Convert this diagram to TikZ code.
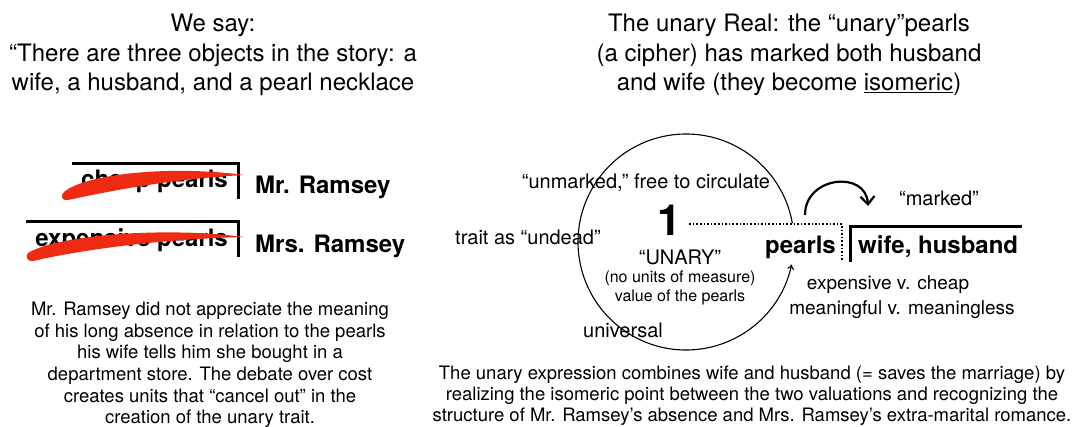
\documentclass[tikz,border=0pt]{standalone}
\usepackage{fontspec}
\setmainfont{TeX Gyre Heros}
\usepackage{xcolor}
\usepackage{tikz}
\usetikzlibrary{arrows.meta,calc}

\definecolor{brushred}{RGB}{238,42,18}

\begin{document}
\begin{tikzpicture}[x=1pt,y=-1pt]
        % Define the styles for the texts, brackets and strokes
        \tikzstyle{heading}=[align=center, inner sep=0pt, font=\fontsize{24}{29.5}\selectfont];
        \tikzstyle{remark}=[align=center, inner sep=0pt, font=\fontsize{18.5}{21.6}\selectfont];
        \tikzstyle{note}=[inner sep=0pt, font=\fontsize{20}{24}\selectfont];
        \tikzstyle{small}=[inner sep=0pt, font=\fontsize{16}{19.5}\selectfont];
        \tikzstyle{term}=[inner sep=0pt, font=\fontsize{24}{28}\selectfont\bfseries];
        \tikzstyle{bracket}=[line width=3pt];
        \tikzstyle{brush}=[fill=brushred];

        % Fix the size of the picture
        \useasboundingbox (0,0) rectangle (1076,426);

        % Headings of the two halves
        \node[heading] (saytitle) at (213,55) {We say:\\ ``There are three objects in the story: a\\ wife, a husband, and a pearl necklace};
        \node[heading] (realtitle) at (789,55) {The unary Real: the ``unary''pearls\\ (a cipher) has marked both husband\\ and wife (they become \underline{isomeric})};

        % Left side: the two crossed-out valuations
        \node[term, anchor=base east] (cheap) at (228,187) {cheap pearls};
        \node[term, anchor=base west] (mr) at (255,193) {Mr. Ramsey};
        \node[term, anchor=base east] (expensive) at (228,246) {expensive pearls};
        \node[term, anchor=base west] (mrs) at (255,252) {Mrs. Ramsey};

        % Brackets over the valuations
        \draw[bracket] (72,163) -- (238,163) -- (238,199);
        \draw[bracket] (26,221) -- (238,221) -- (238,257);

        % Red strokes crossing them out
        \fill[brush] (64,192) .. controls (85,174) and (170,165) .. (244,175)
                     .. controls (170,179) and (110,191) .. (68,200)
                     .. controls (62,201) and (60,196) .. (64,192) -- cycle;
        \fill[brush] (28,253) .. controls (55,236) and (160,226) .. (244,237)
                     .. controls (160,239) and (80,250) .. (33,261)
                     .. controls (27,262) and (25,256) .. (28,253) -- cycle;

        % Comment on the left side
        \node[remark] (leftnote) at (210,365) {Mr. Ramsey did not appreciate the meaning\\ of his long absence in relation to the pearls\\ his wife tells him she bought in a\\ department store. The debate over cost\\ creates units that ``cancel out'' in the\\ creation of the unary trait.};

        % Right side: the circle of the unary trait
        \coordinate (loop) at (686,242);
        \draw[line width=1.1pt, -{To[length=5pt,width=7pt]}] (loop) ++(-10:108) arc (-10:-348:108);

        \node[note] (unmarked) at (646,183) {``unmarked,'' free to circulate};
        \node[inner sep=0pt, font=\fontsize{43}{43}\selectfont\bfseries] (one) at (669,220) {1};
        \node[note] (undead) at (528,237) {trait as ``undead''};
        \node[note] (unary) at (680,257) {``UNARY''};
        \node[small] (units) at (680,278) {(no units of measure)};
        \node[small] (value) at (680,297) {value of the pearls};
        \node[note] (universal) at (623,330) {universal};

        % The marked pair
        \node[term, anchor=base west] (pearls) at (765,253) {pearls};
        \node[term, anchor=base west] (spouses) at (858,253) {wife, husband};
        \node[note] (marked) at (939,198) {``marked''};
        \draw[bracket] (1022,226) -- (850,226) -- (850,262);

        % Dotted line from the 1 down past the pearls
        \coordinate (dotcorner) at (842,224);
        \coordinate (dotend) at (842,261);
        \draw[line width=1.6pt, dotted] ([xshift=8pt]one.east |- dotcorner) -- (dotcorner) -- (dotend);

        % Arrow of the marking
        \coordinate (markfrom) at (805,215);
        \coordinate (markto) at (868,206);
        \draw[line width=2.2pt, -{Straight Barb[length=8pt,width=14pt]}] (markfrom) .. controls (805,176) and (866,170) .. (markto);

        \node[note, font=\fontsize{19}{23}\selectfont] (cost) at (888,285) {expensive v. cheap};
        \node[note, font=\fontsize{19}{23}\selectfont] (meaning) at (902,310) {meaningful v. meaningless};

        % Comment on the right side
        \node[remark, font=\fontsize{18.5}{21}\selectfont] (rightnote) at (752,396) {The unary expression combines wife and husband (= saves the marriage) by\\ realizing the isomeric point between the two valuations and recognizing the\\ structure of Mr. Ramsey's absence and Mrs. Ramsey's extra-marital romance.};
\end{tikzpicture}
\end{document}
